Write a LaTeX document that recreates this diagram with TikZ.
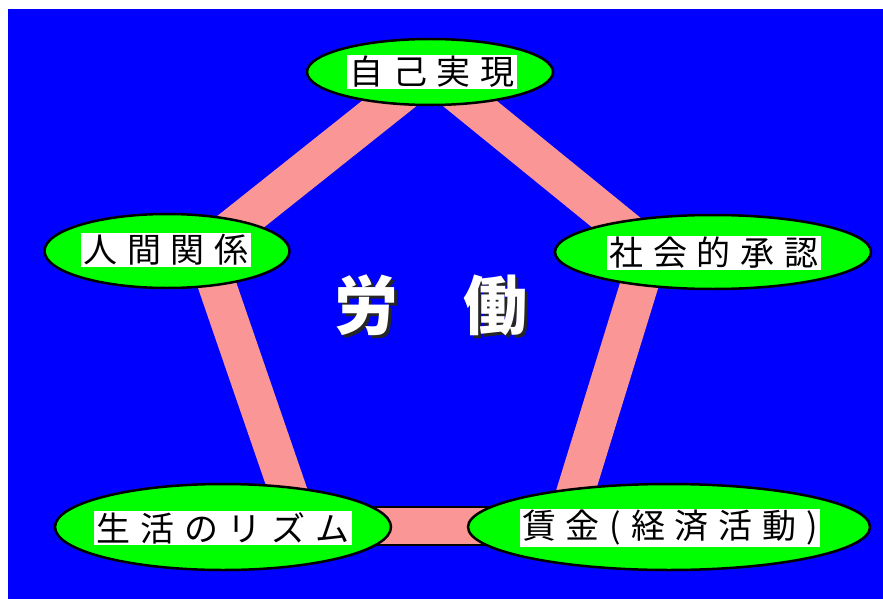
\documentclass[tikz,border=0pt]{standalone}
\usepackage{fontspec}
\newfontfamily\cjk[LetterSpace=29]{Noto Sans CJK JP}
\newfontfamily\cjkbig{Noto Sans CJK JP}
\usetikzlibrary{shapes.geometric}
\definecolor{bgblue}{RGB}{0,0,255}
\definecolor{ovalgreen}{RGB}{0,255,0}
\definecolor{barpink}{RGB}{250,150,150}
\tikzset{
  oval/.style={ellipse, draw=black, line width=2.5pt, fill=ovalgreen, inner sep=0pt},
  lbl/.style={fill=white, inner xsep=2pt, inner ysep=1pt, font=\cjk\fontsize{34}{36}\selectfont, text=black},
  bar/.style={draw=barpink, line width=38pt},
  barline/.style={draw=black, line width=40pt},
  title/.style={font=\cjkbig\bfseries\fontsize{64}{70}\selectfont, inner sep=0pt}
}
\begin{document}
\begin{tikzpicture}[x=1pt,y=-1pt]
\useasboundingbox (0,0) rectangle (883,599);
\fill[white] (0,0) rectangle (883,599);
\fill[bgblue] (8,9) rectangle (883,599);
% pentagon vertices
\coordinate (p1) at (430,71);
\coordinate (p2) at (650,250);
\coordinate (p3) at (565,526);
\coordinate (p4) at (300,526);
\coordinate (p5) at (205,250);
% bars
\draw[barline] (p4) -- (p3);
\draw[draw=barpink, line width=36pt] (p4) -- (p3);
\draw[bar] (p1) -- (p2);
\draw[bar] (p2) -- (p3);
\draw[bar] (p4) -- (p5);
\draw[bar] (p5) -- (p1);
% ovals
\node[oval, minimum width=246pt, minimum height=66pt] (e1) at (430,72) {};
\node[oval, minimum width=245pt, minimum height=74pt] (e2) at (167,251) {};
\node[oval, minimum width=316pt, minimum height=74pt] (e3) at (713,252) {};
\node[oval, minimum width=336pt, minimum height=86pt] (e4) at (223,527) {};
\node[oval, minimum width=402pt, minimum height=86pt] (e5) at (669,527) {};
% labels
\node[lbl] (t1) at (432,72) {自己実現};
\node[lbl] (t2) at (166,250) {人間関係};
\node[lbl] (t3) at (714,253) {社会的承認};
\node[lbl] (t4) at (223,528) {生活のリズム};
\node[lbl] (t5) at (670,528) {賃金(経済活動)};
% center title
\node[title, text=black!85] (shadow) at (434,308) {労\hspace{66pt}働};
\node[title, text=white] (labor) at (431,305) {労\hspace{66pt}働};
\end{tikzpicture}
\end{document}
